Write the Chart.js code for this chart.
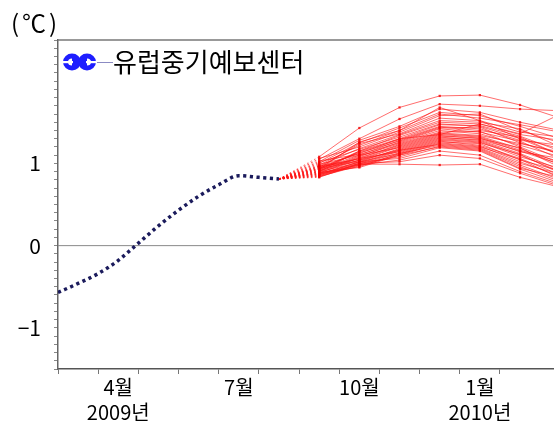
<!DOCTYPE html>
<html>
<head>
<meta charset="utf-8">
<script src="https://cdn.jsdelivr.net/npm/chart.js@4/dist/chart.umd.min.js"></script>
<style>
  html, body { margin: 0; padding: 0; background: #fff; }
  #wrap { width: 557px; height: 423px; }
</style>
</head>
<body>
<div id="wrap"><canvas id="c" width="557" height="423"></canvas></div>
<script>
// Months counted from 1 March 2009 (0 = 1 Mar 2009, 10 = 1 Jan 2010)
const obsMonth = [0.00, 0.50, 1.00, 1.50, 1.93, 2.50, 3.00, 3.50, 4.00, 4.50, 5.00, 5.50];
const obsValue = [-0.57, -0.46, -0.34, -0.18, 0.00, 0.24, 0.43, 0.60, 0.74, 0.85, 0.83, 0.81];

// Ensemble forecast: common start, then monthly means (mid-month) per member
const fcStartMonth = 5.5;
const fcStartValue = 0.81;
const fcMonth = [6.5, 7.5, 8.5, 9.5, 10.5, 11.5, 12.5];
const fcSep = [1.08,1.05,1.02,1.00,0.98,1.06,0.95,0.97,0.93,1.01,0.96,0.92,0.99,0.94,0.90,1.03,0.91,0.95,0.88,0.97,0.89,0.93,0.87,0.96,0.90,0.86,0.92,0.85,0.94,0.88,0.84,0.91,0.87,0.83,0.89,0.86,0.84,0.90,0.85,0.93,0.88];
const fcOct = [1.43,1.30,1.28,1.25,1.22,1.20,1.24,1.18,1.15,1.17,1.12,1.14,1.10,1.13,1.08,1.11,1.09,1.06,1.07,1.05,1.04,1.10,1.02,1.03,1.01,1.00,1.06,0.99,1.02,0.98,0.97,1.04,0.96,1.00,0.95,1.02,0.98,1.15,0.99,1.26,1.00];
const fcNov = [1.68,1.54,1.45,1.43,1.40,1.38,1.36,1.35,1.34,1.32,1.30,1.29,1.28,1.27,1.26,1.25,1.24,1.23,1.22,1.21,1.20,1.19,1.18,1.17,1.16,1.15,1.14,1.13,1.12,1.11,1.10,1.16,1.12,1.08,1.10,1.06,1.04,1.30,0.99,1.40,1.02];
const fcDec = [1.82,1.72,1.66,1.62,1.60,1.58,1.55,1.52,1.50,1.48,1.47,1.45,1.44,1.43,1.42,1.40,1.38,1.37,1.36,1.35,1.34,1.33,1.32,1.31,1.30,1.29,1.28,1.27,1.26,1.25,1.24,1.23,1.22,1.21,1.20,1.19,1.15,1.35,0.98,1.68,1.10];
const fcJan = [1.83,1.70,1.62,1.58,1.55,1.60,1.52,1.50,1.48,1.45,1.46,1.42,1.40,1.44,1.38,1.36,1.39,1.34,1.33,1.32,1.30,1.31,1.28,1.29,1.27,1.26,1.25,1.22,1.24,1.21,1.20,1.19,1.18,1.17,1.16,1.15,1.10,1.48,0.99,1.52,1.06];
const fcFeb = [1.71,1.66,1.50,1.45,1.47,1.40,1.38,1.42,1.35,1.30,1.33,1.28,1.32,1.25,1.27,1.22,1.20,1.24,1.18,1.16,1.19,1.14,1.12,1.15,1.10,1.08,1.11,1.06,1.04,1.02,1.05,1.00,0.98,0.96,0.94,0.93,0.90,1.36,0.83,1.30,0.88];
const fcMar = [1.55,1.64,1.40,1.30,1.38,1.25,1.32,1.20,1.28,1.18,1.15,1.22,1.10,1.12,1.05,1.08,1.00,1.14,0.98,1.02,0.95,1.06,0.92,0.99,0.90,0.94,0.88,0.86,0.91,0.84,0.82,0.87,0.80,0.78,0.83,0.76,0.74,1.60,0.71,1.10,0.72];

// Axis labels
const xLabelPos = [1.5, 4.5, 7.5, 10.5];
const xLabelText = [['4월', '2009년'], ['7월'], ['10월'], ['1월', '2010년']];
const yLabelValues = [-1, 0, 1];
const legendText = '유럽중기예보센터';
const unitText = '(℃)';

const FONT = "'Noto Sans CJK KR', 'Noto Sans', sans-serif";
Chart.defaults.font.family = FONT;
Chart.defaults.color = '#000';

// Small blue logo used as the legend marker
function makeLogo() {
  const c = document.createElement('canvas');
  c.width = 40; c.height = 24;
  const g = c.getContext('2d');
  g.filter = 'blur(0.6px)';
  g.strokeStyle = '#1e1eff';
  g.lineWidth = 5;
  g.beginPath(); g.ellipse(12, 12, 6.5, 6, 0, 0, Math.PI * 2); g.stroke();
  g.beginPath(); g.ellipse(27, 12, 6.5, 6, 0, 0, Math.PI * 2); g.stroke();
  g.fillStyle = '#1e1eff';
  g.fillRect(12, 8, 15, 8);
  g.fillStyle = '#fff';
  g.fillRect(3, 11, 10, 2.2);
  g.fillRect(26, 11, 11, 2.2);
  return c;
}
const logo = makeLogo();

const fcCols = [fcSep, fcOct, fcNov, fcDec, fcJan, fcFeb, fcMar];
const memberSets = fcSep.map((_, i) => ({
  label: 'member ' + (i + 1),
  data: [{ x: fcStartMonth, y: fcStartValue }].concat(
    fcMonth.map((m, k) => ({ x: m, y: fcCols[k][i] }))),
  borderColor: 'rgba(255,20,20,0.62)',
  borderWidth: 1,
  pointStyle: 'rect',
  pointRadius: c => (c.dataIndex === 0 ? 0 : 1.6),
  pointBackgroundColor: 'rgba(240,0,0,0.8)',
  pointBorderWidth: 0,
  tension: 0,
  segment: { borderDash: c => (c.p0DataIndex === 0 ? [1.5, 2.5] : undefined) }
}));

const obsSet = {
  label: 'observed',
  data: obsMonth.map((m, i) => ({ x: m, y: obsValue[i] })),
  borderColor: '#1b1b5c',
  borderWidth: 3.5,
  borderDash: [3.2, 3.5],
  borderCapStyle: 'butt',
  pointRadius: 0,
  cubicInterpolationMode: 'monotone'
};

// Frame, zero line, legend entry and unit label
const frame = {
  id: 'frame',
  beforeDatasetsDraw(chart) {
    const { ctx, chartArea: a, scales: { y } } = chart;
    ctx.save();
    const y0 = y.getPixelForValue(0);
    ctx.strokeStyle = '#8a8a8a';
    ctx.lineWidth = 1;
    ctx.beginPath(); ctx.moveTo(a.left, y0); ctx.lineTo(a.right, y0); ctx.stroke();
    ctx.strokeStyle = '#777';
    ctx.lineWidth = 1.5;
    ctx.beginPath(); ctx.moveTo(a.left, a.top); ctx.lineTo(a.right, a.top); ctx.stroke();
    ctx.restore();
  },
  afterDraw(chart) {
    const { ctx, chartArea: a } = chart;
    ctx.save();
    // legend entry inside the plot area
    const lx = a.left + 5, ly = a.top + 22;
    ctx.strokeStyle = 'rgba(90,90,170,0.7)';
    ctx.lineWidth = 1;
    ctx.beginPath(); ctx.moveTo(lx + 32, ly + 0.5); ctx.lineTo(lx + 50, ly + 0.5); ctx.stroke();
    ctx.drawImage(logo, lx - 3, ly - 12);
    ctx.font = '26px ' + FONT;
    ctx.fillStyle = '#000';
    ctx.textBaseline = 'middle';
    ctx.textAlign = 'left';
    ctx.fillText(legendText, lx + 50, ly);
    // unit label
    ctx.font = '24px ' + FONT;
    if ('letterSpacing' in ctx) ctx.letterSpacing = '3px';
    ctx.fillText(unitText, 11, 23);
    ctx.restore();
  }
};

new Chart(document.getElementById('c'), {
  type: 'line',
  data: { datasets: [obsSet].concat(memberSets) },
  options: {
    responsive: false,
    animation: false,
    layout: { padding: { top: 40, right: 0, bottom: 0, left: 0 } },
    scales: {
      x: {
        type: 'linear',
        min: 0,
        max: 12.32,
        afterFit(s) { s.height = 54; },
        border: { color: '#555', width: 1.5 },
        grid: {
          drawOnChartArea: false,
          tickLength: 5,
          color: c => (c.tick && Number.isInteger(c.tick.value) ? '#777' : 'rgba(0,0,0,0)')
        },
        ticks: {
          stepSize: 0.5,
          autoSkip: false,
          maxRotation: 0,
          padding: 1,
          font: { size: 20, lineHeight: 1.25 },
          callback: v => {
            const k = xLabelPos.findIndex(p => Math.abs(p - v) < 1e-6);
            return k >= 0 ? xLabelText[k] : '';
          }
        }
      },
      y: {
        min: -1.5,
        max: 2.5,
        afterFit(s) { s.width = 58; },
        border: { color: '#666', width: 1.5 },
        grid: { drawOnChartArea: false, tickLength: 4, color: '#888' },
        ticks: {
          stepSize: 0.1,
          autoSkip: false,
          padding: 13,
          font: { size: 21 },
          callback: v => {
            const hit = yLabelValues.find(t => Math.abs(t - v) < 1e-6);
            if (hit === undefined) return '';
            return hit < 0 ? '\u2212' + Math.abs(hit) : String(hit);
          }
        }
      }
    },
    plugins: {
      tooltip: { enabled: false },
      legend: { display: false }
    }
  },
  plugins: [frame]
});
</script>
</body>
</html>
